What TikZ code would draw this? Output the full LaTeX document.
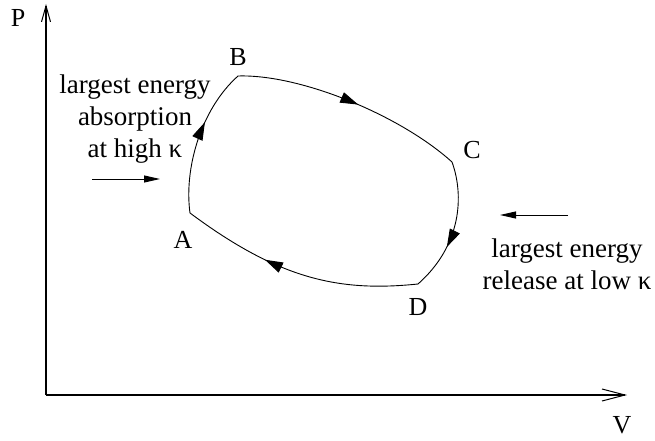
\documentclass[tikz,border=0pt]{standalone}
\usepackage{fontspec}
\setmainfont{Liberation Serif}
\usetikzlibrary{arrows.meta,decorations.markings}
\begin{document}
\begin{tikzpicture}[x=1pt,y=-1pt,
  lbl/.style={font=\fontsize{26}{30}\selectfont, inner sep=0pt},
  txt/.style={font=\fontsize{27}{32}\selectfont, align=center, inner sep=0pt},
  axis/.style={line width=1.4pt},
  cyc/.style={line width=0.9pt},
  midarrow/.style={postaction={decorate},decoration={markings,
     mark=at position #1 with {\arrow{Triangle[length=18pt,width=11pt]}}}},
  pointer/.style={line width=0.9pt,-{Triangle[length=16pt,width=7pt]}}]
\useasboundingbox (0,0) rectangle (655,441);
\coordinate (O) at (46,395);
\coordinate (Ptop) at (46,4);
\coordinate (Vend) at (627,395);
\draw[axis,-{Straight Barb[length=16pt,width=9pt,line width=1pt]}] (O) -- (Ptop);
\draw[axis,-{Straight Barb[length=23pt,width=12pt,line width=1pt]}] (O) -- (Vend);
\node[lbl] (P) at (18,18) {P};
\node[lbl] (V) at (622,425) {V};
\coordinate (a) at (190,213);
\coordinate (b) at (238,76);
\coordinate (c) at (452,162);
\coordinate (d) at (418,284);
\draw[cyc,midarrow=0.62] (a) .. controls (184,170) and (200,110) .. (b);
\draw[cyc,midarrow=0.53] (b) .. controls (300,74) and (400,115) .. (c);
\draw[cyc,midarrow=0.65] (c) .. controls (464,195) and (462,245) .. (d);
\draw[cyc,midarrow=0.64] (d) .. controls (340,292) and (280,280) .. (a);
\node[lbl] (A) at (183,240) {A};
\node[lbl] (B) at (238,57) {B};
\node[lbl] (C) at (472,150) {C};
\node[lbl] (D) at (418,307) {D};
\node[txt] (abs) at (135,119) {largest energy\\absorption\\at high κ};
\node[txt] (rel) at (567,264) {largest energy\\release at low κ};
\coordinate (l1) at (92,179);
\coordinate (l2) at (160,179);
\draw[pointer] (l1) -- (l2);
\coordinate (r1) at (568,215);
\coordinate (r2) at (500,215);
\draw[pointer] (r1) -- (r2);
\end{tikzpicture}
\end{document}
